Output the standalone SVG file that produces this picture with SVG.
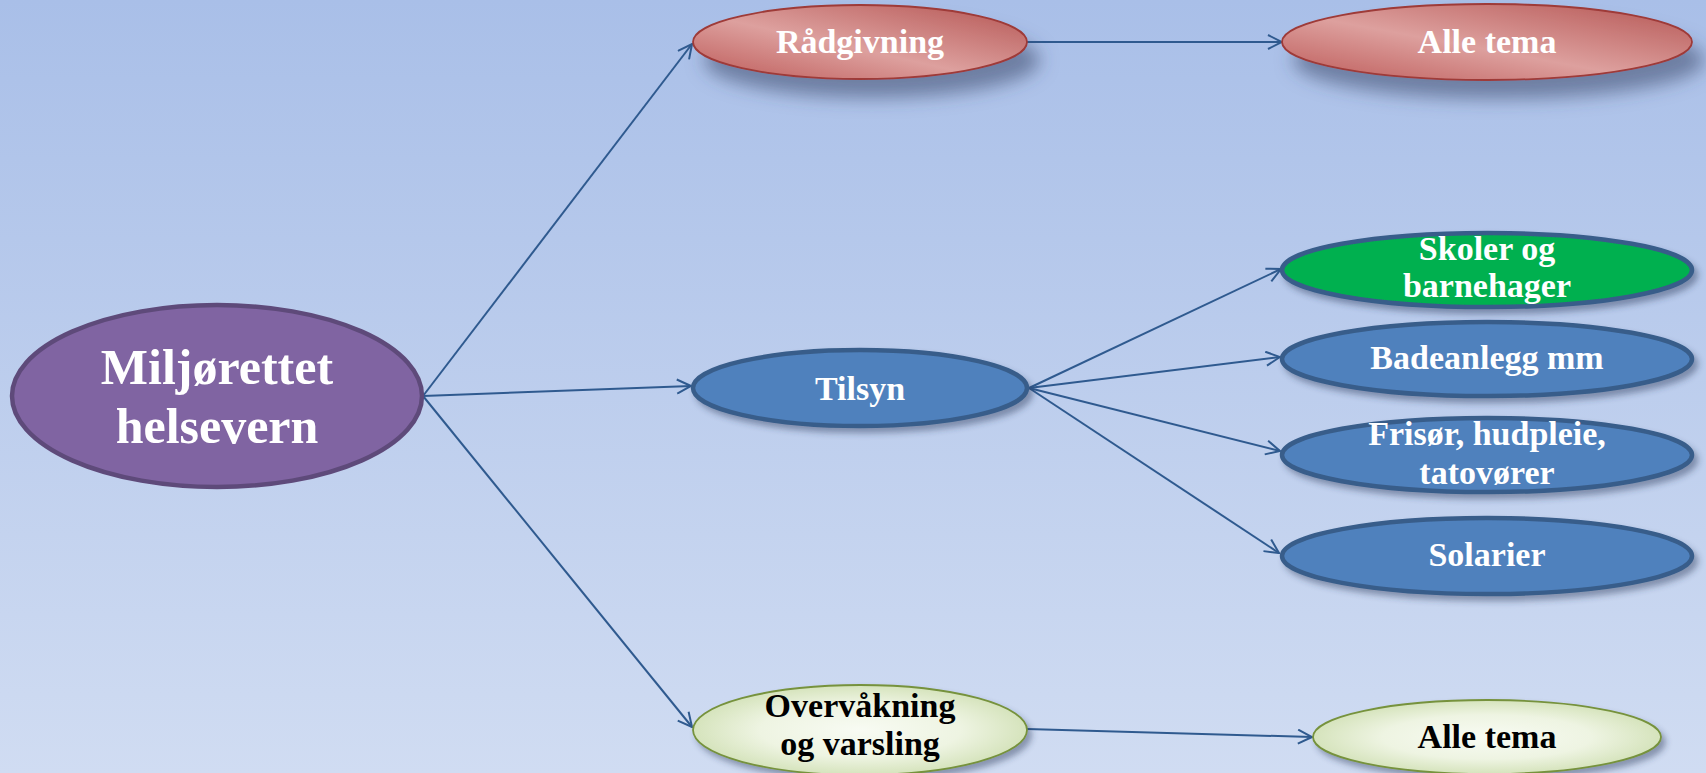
<svg xmlns="http://www.w3.org/2000/svg" width="1706" height="773" viewBox="0 0 1706 773">
<defs>
<linearGradient id="bg" x1="0" y1="0" x2="0" y2="1">
<stop offset="0" stop-color="#a9bfe8"/>
<stop offset="1" stop-color="#d0dcf2"/>
</linearGradient>
<linearGradient id="red" x1="0" y1="1" x2="1" y2="0">
<stop offset="0" stop-color="#bd5a58"/>
<stop offset="0.45" stop-color="#dda09e"/>
<stop offset="1" stop-color="#b55553"/>
</linearGradient>
<radialGradient id="lg" cx="0.5" cy="0.5" r="0.6">
<stop offset="0" stop-color="#f8fbf3"/>
<stop offset="0.5" stop-color="#eef4e2"/>
<stop offset="1" stop-color="#c9dba9"/>
</radialGradient>
<filter id="shBig" x="-20%" y="-30%" width="150%" height="200%">
<feDropShadow dx="12" dy="18" stdDeviation="9" flood-color="#3a4a6a" flood-opacity="0.55"/>
</filter>
<filter id="shSm" x="-10%" y="-20%" width="125%" height="150%">
<feDropShadow dx="4" dy="5" stdDeviation="3" flood-color="#2a3a5a" flood-opacity="0.45"/>
</filter>
<marker id="arr" viewBox="0 0 16 16" refX="15" refY="8" markerWidth="16" markerHeight="16" markerUnits="userSpaceOnUse" orient="auto">
<path d="M1,1 L15,8 L1,15" fill="none" stroke="#2f5a8f" stroke-width="2"/>
</marker>
<style>
.lbl{font-family:"Liberation Serif","Times New Roman",serif;font-weight:bold;font-size:34px;fill:#ffffff;text-anchor:middle}
.dark{fill:#000000}
.big{font-size:50px}
.red{fill:url(#red);stroke:#9e3a38;stroke-width:1.8;filter:url(#shBig)}
.blue{fill:#4f81bd;stroke:#385d8a;stroke-width:4.5;filter:url(#shSm)}
.green{fill:#00b050;stroke:#385d8a;stroke-width:4.5;filter:url(#shSm)}
.lgreen{fill:url(#lg);stroke:#76923c;stroke-width:1.8;filter:url(#shSm)}
.purple{fill:#8064a2;stroke:#5e4a7a;stroke-width:4.5}
.con{stroke:#2f5a8f;stroke-width:2;fill:none;marker-end:url(#arr)}
</style>
</defs>
<rect width="1706" height="773" fill="url(#bg)"/>
<g id="connectors">
<line class="con" x1="423" y1="396" x2="692" y2="44"/>
<line class="con" x1="423" y1="396" x2="691" y2="386"/>
<line class="con" x1="423" y1="396" x2="692" y2="727"/>
<line class="con" x1="1027" y1="42" x2="1282" y2="42"/>
<line class="con" x1="1029" y1="388" x2="1281" y2="269"/>
<line class="con" x1="1029" y1="388" x2="1280" y2="357"/>
<line class="con" x1="1029" y1="388" x2="1280" y2="451"/>
<line class="con" x1="1029" y1="388" x2="1279" y2="553"/>
<line class="con" x1="1027" y1="729" x2="1312" y2="737"/>
</g>
<g id="miljorettet">
<ellipse class="purple" cx="217" cy="396" rx="205" ry="91"/>
<text class="lbl big" x="217" y="384">Miljørettet</text>
<text class="lbl big" x="217" y="443">helsevern</text>
</g>
<g id="radgivning">
<ellipse class="red" cx="860" cy="42" rx="167" ry="37"/>
<text class="lbl" x="860" y="53">Rådgivning</text>
</g>
<g id="alle-tema-1">
<ellipse class="red" cx="1487" cy="42" rx="205" ry="38"/>
<text class="lbl" x="1487" y="53">Alle tema</text>
</g>
<g id="tilsyn">
<ellipse class="blue" cx="860" cy="388" rx="167" ry="38"/>
<text class="lbl" x="860" y="400">Tilsyn</text>
</g>
<g id="skoler">
<ellipse class="green" cx="1487" cy="270" rx="205" ry="37"/>
<text class="lbl" x="1487" y="260">Skoler og</text>
<text class="lbl" x="1487" y="297">barnehager</text>
</g>
<g id="badeanlegg">
<ellipse class="blue" cx="1487" cy="359" rx="205" ry="37"/>
<text class="lbl" x="1487" y="369">Badeanlegg mm</text>
</g>
<g id="frisor">
<ellipse class="blue" cx="1487" cy="455" rx="205" ry="37"/>
<text class="lbl" x="1487" y="445">Frisør, hudpleie,</text>
<text class="lbl" x="1487" y="484">tatovører</text>
</g>
<g id="solarier">
<ellipse class="blue" cx="1487" cy="556" rx="205" ry="38"/>
<text class="lbl" x="1487" y="566">Solarier</text>
</g>
<g id="overvakning">
<ellipse class="lgreen" cx="860" cy="730" rx="167" ry="45"/>
<text class="lbl dark" x="860" y="717">Overvåkning</text>
<text class="lbl dark" x="860" y="755">og varsling</text>
</g>
<g id="alle-tema-2">
<ellipse class="lgreen" cx="1487" cy="737" rx="174" ry="37"/>
<text class="lbl dark" x="1487" y="748">Alle tema</text>
</g>
</svg>
